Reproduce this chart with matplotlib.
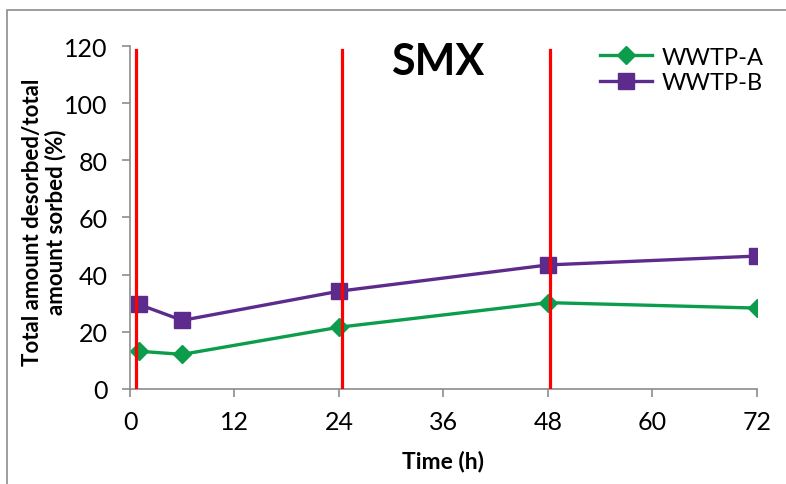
import numpy as np
import matplotlib
matplotlib.use('Agg')
import matplotlib.pyplot as plt
from matplotlib.patches import Rectangle

plt.rcParams['font.family'] = ['Lato', 'DejaVu Sans']

# desorption time course (h) and ratio (%)
time_h = [1, 6, 24, 48, 72]
wwtp_a = [13.2, 12.1, 21.6, 30.2, 28.3]
wwtp_b = [29.6, 24.0, 34.2, 43.4, 46.5]

# sampling events marked with vertical lines
event_h = [0.7, 24.4, 48.2]
event_top = 118.5

fig = plt.figure(figsize=(7.86, 4.85), dpi=100)
ax = fig.add_axes([0.1654, 0.196, 0.7976, 0.707])

# outer chart border
fig.patches.append(Rectangle((7 / 786, -0.1), 1.2, 1 - 11 / 485 + 0.1,
                             transform=fig.transFigure, fill=False,
                             edgecolor='#8c8c8c', linewidth=1.2))

for x in event_h:
    ax.plot([x, x], [0, event_top], color='#ff0000', linewidth=2.3, zorder=3)

ax.plot(time_h, wwtp_a, color='#0b9d4c', linewidth=2.4, marker='D',
        markersize=9, label='WWTP-A', zorder=2)
ax.plot(time_h, wwtp_b, color='#5c2b8b', linewidth=2.4, marker='s',
        markersize=11.5, label='WWTP-B', zorder=2)

ax.set_xlim(0, 72)
ax.set_ylim(0, 120)
ax.set_xticks(np.arange(0, 73, 12))
ax.set_yticks(np.arange(0, 121, 20))

for side in ['top', 'right']:
    ax.spines[side].set_visible(False)
for side in ['left', 'bottom']:
    ax.spines[side].set_color('#8c8c8c')
    ax.spines[side].set_linewidth(1.2)

ax.tick_params(axis='both', direction='out', length=6, width=1.2,
               color='#8c8c8c', labelsize=18, pad=10)
ax.tick_params(axis='x', pad=9)

ax.set_xlabel('Time (h)', fontsize=16.5, fontweight='bold', labelpad=12)
ax.set_ylabel('Total amount desorbed/total\namount sorbed (%)', fontsize=16,
              fontweight='bold', linespacing=1.1)
ax.yaxis.set_label_coords(-0.102, 0.49)

ax.text(0.49, 0.955, 'SMX', transform=ax.transAxes, fontsize=31,
        fontweight='bold', ha='center', va='center')

ax.legend(loc='upper right', bbox_to_anchor=(1.045, 1.06), frameon=False,
          fontsize=17, handlelength=2.2, handletextpad=0.4,
          labelspacing=0.2)

fig.savefig('out.png', dpi=100)
